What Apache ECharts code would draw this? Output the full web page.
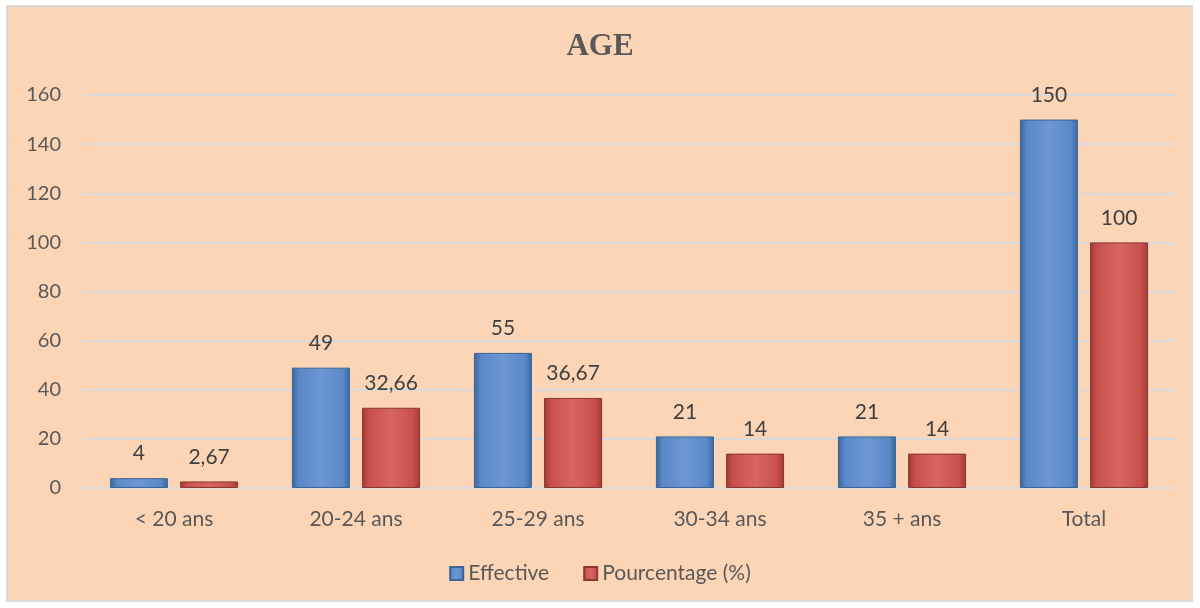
<!DOCTYPE html>
<html><head><meta charset="utf-8">
<script src="https://cdn.jsdelivr.net/npm/echarts@6/dist/echarts.min.js"></script>
<style>
html,body{margin:0;padding:0;background:#fff;}
#wrap{position:absolute;left:6px;top:5px;width:1187px;height:597px;border:2px solid #D9D9D9;background:#FBD5B5;box-sizing:border-box;}
#c{position:absolute;left:0;top:0;width:1200px;height:608px;}
</style></head>
<body><div id="wrap"></div><div id="c"></div>
<script>
const categories = ['< 20 ans','20-24 ans','25-29 ans','30-34 ans','35 + ans','Total'];
const effective = [4,49,55,21,21,150];
const pourcentage = [2.67,32.66,36.67,14,14,100];
const seriesNames = ['Effective','Pourcentage (%)'];
const yTicks = {min:0,max:160,interval:20};

const font = 'Lato, "Open Sans", sans-serif';
function grad(light, mid, dark){
  return new echarts.graphic.LinearGradient(0,0,1,0,[
    {offset:0,color:dark},{offset:0.12,color:mid},{offset:0.5,color:light},{offset:0.88,color:mid},{offset:1,color:dark}]);
}
const chart = echarts.init(document.getElementById('c'),null,{renderer:'canvas'});
const fmt = p => String(p.value).replace('.',',');
chart.setOption({
  backgroundColor:'transparent',
  title:{text:'AGE',left:'center',top:26,textStyle:{fontFamily:'"Liberation Serif", serif',fontSize:31,fontWeight:'bold',color:'#595959'}},
  grid:{left:83,right:25,top:95,bottom:120},
  legend:{bottom:19,left:'center',itemWidth:13,itemHeight:13,itemGap:34,icon:'rect',
    textStyle:{fontFamily:font,fontSize:21,color:'#595959'},data:seriesNames},
  xAxis:{type:'category',data:categories,
    axisLine:{lineStyle:{color:'#D9D9D9',width:2}},axisTick:{show:false},
    axisLabel:{fontFamily:font,fontSize:21,color:'#595959',margin:21}},
  yAxis:{type:'value',min:yTicks.min,max:yTicks.max,interval:yTicks.interval,
    axisLine:{show:false},axisTick:{show:false},
    splitLine:{lineStyle:{color:'#D9D9D9',width:2}},
    axisLabel:{fontFamily:font,fontSize:20,color:'#595959',margin:22}},
  series:[
    {name:seriesNames[0],type:'bar',data:effective,barWidth:58,barGap:'21%',
     itemStyle:{color:grad('#6B98D3','#5A89C8','#3A659E'),borderColor:'#3C6494',borderWidth:1},
     label:{show:true,position:'top',distance:14,formatter:fmt,fontFamily:font,fontSize:21,color:'#404040'}},
    {name:seriesNames[1],type:'bar',data:pourcentage,barWidth:58,
     itemStyle:{color:grad('#D66663','#C8504C','#9E3A37'),borderColor:'#8E3431',borderWidth:1},
     label:{show:true,position:'top',distance:14,formatter:fmt,fontFamily:font,fontSize:21,color:'#404040'}}
  ]
});
</script></body></html>
